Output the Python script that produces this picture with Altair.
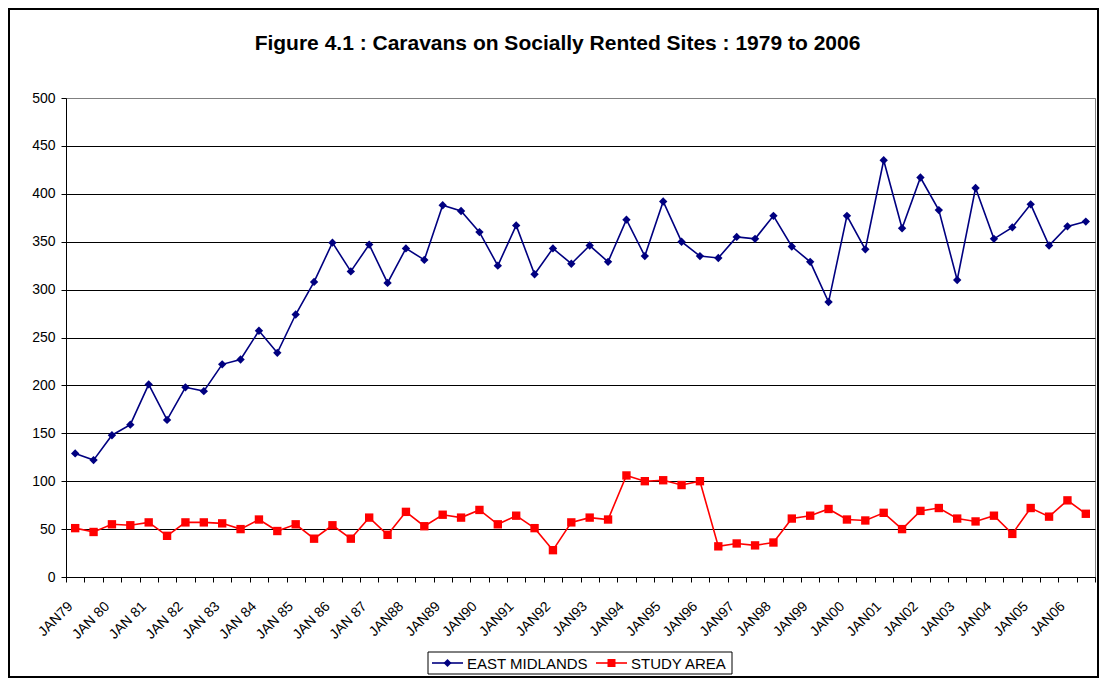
import altair as alt
import pandas as pd

title_text = "Figure 4.1 : Caravans on Socially Rented Sites : 1979 to 2006"

periods = [
    "JAN79", "JUL79", "JAN 80", "JUL80", "JAN 81", "JUL81", "JAN 82", "JUL82",
    "JAN 83", "JUL83", "JAN 84", "JUL84", "JAN 85", "JUL85", "JAN 86", "JUL86",
    "JAN 87", "JUL87", "JAN88", "JUL88", "JAN89", "JUL89", "JAN90", "JUL90",
    "JAN91", "JUL91", "JAN92", "JUL92", "JAN93", "JUL93", "JAN94", "JUL94",
    "JAN95", "JUL95", "JAN96", "JUL96", "JAN97", "JUL97", "JAN98", "JUL98",
    "JAN99", "JUL99", "JAN00", "JUL00", "JAN01", "JUL01", "JAN02", "JUL02",
    "JAN03", "JUL03", "JAN04", "JUL04", "JAN05", "JUL05", "JAN06", "JUL06",
]

east_midlands = [
    129, 122, 148, 159, 201, 164, 198, 194, 222, 227, 257, 234, 274, 308,
    349, 319, 347, 307, 343, 331, 388, 382, 360, 325, 367, 316, 343, 327,
    346, 329, 373, 335, 392, 350, 335, 333, 355, 353, 377, 345, 329, 287,
    377, 342, 435, 364, 417, 383, 310, 406, 353, 365, 389, 346, 366, 371,
]

study_area = [
    51, 47, 55, 54, 57, 43, 57, 57, 56, 50, 60, 48, 55, 40,
    54, 40, 62, 44, 68, 53, 65, 62, 70, 55, 64, 51, 28, 57,
    62, 60, 106, 100, 101, 96, 100, 32, 35, 33, 36, 61, 64, 71,
    60, 59, 67, 50, 69, 72, 61, 58, 64, 45, 72, 63, 80, 66,
]

series_names = ["EAST MIDLANDS", "STUDY AREA"]
series_colors = ["#000080", "#FF0000"]
series_shapes = ["diamond", "square"]

rows = []
for p, e, s in zip(periods, east_midlands, study_area):
    rows.append({"period": p, "series": series_names[0], "value": e})
    rows.append({"period": p, "series": series_names[1], "value": s})
df = pd.DataFrame(rows)

W, H = 1029, 479
FONT = "Liberation Sans"

x_enc = alt.X(
    "period:N",
    sort=periods,
    scale=alt.Scale(type="band", paddingInner=0, paddingOuter=0),
    axis=alt.Axis(
        title=None,
        labelAngle=-45,
        labelExpr="indexof(datum.label, 'JUL') == 0 ? '' : datum.label",
        tickBand="extent",
        tickSize=5,
        tickColor="black",
        domainColor="black",
        labelFont=FONT,
        labelFontSize=14,
        labelColor="black",
        labelPadding=17,
        labelOffset=-10,
        labelOverlap=False,
        grid=False,
    ),
)

y_enc = alt.Y(
    "value:Q",
    scale=alt.Scale(domain=[0, 500], nice=False),
    axis=alt.Axis(
        title=None,
        values=list(range(0, 501, 50)),
        grid=True,
        gridColor={"condition": {"test": "datum.value === 500", "value": "#808080"}, "value": "black"},
        gridWidth=1,
        tickSize=5,
        tickColor="black",
        domainColor="black",
        labelFont=FONT,
        labelFontSize=14,
        labelColor="black",
        labelPadding=6,
    ),
)

color_enc = alt.Color(
    "series:N",
    scale=alt.Scale(domain=series_names, range=series_colors),
    legend=None,
)
shape_enc = alt.Shape(
    "series:N",
    scale=alt.Scale(domain=series_names, range=series_shapes),
    legend=None,
)

lines = alt.Chart(df).mark_line(strokeWidth=1.6).encode(
    x=x_enc, y=y_enc, color=color_enc
)
points = alt.Chart(df).mark_point(filled=True, size=70, opacity=1).encode(
    x=x_enc, y=y_enc, color=color_enc, shape=shape_enc
)

one = pd.DataFrame({"k": [0]})

border = alt.Chart(one).mark_rect(
    fill="transparent", stroke="black", strokeWidth=2
).encode(
    x=alt.value(-57), x2=alt.value(W + 3), y=alt.value(-89), y2=alt.value(H + 100)
)

title = alt.Chart(one).mark_text(
    font=FONT, fontSize=21, fontWeight="bold", color="black",
    align="center", baseline="alphabetic"
).encode(x=alt.value(491.5), y=alt.value(-48), text=alt.value(title_text))

legend_box = alt.Chart(one).mark_rect(
    fill="white", stroke="black", strokeWidth=1
).encode(
    x=alt.value(362), x2=alt.value(666), y=alt.value(554), y2=alt.value(576)
)

legend_layers = [legend_box]
legend_x0 = [366, 530]
ly = 565
for name, col, shp, x0 in zip(series_names, series_colors, series_shapes, legend_x0):
    d = pd.DataFrame({"series": [name]})
    legend_layers.append(
        alt.Chart(d).mark_rule(color=col, strokeWidth=1.6).encode(
            x=alt.value(x0), x2=alt.value(x0 + 31), y=alt.value(ly)
        )
    )
    legend_layers.append(
        alt.Chart(d).mark_point(filled=True, size=64, opacity=1, color=col, shape=shp).encode(
            x=alt.value(x0 + 15.5), y=alt.value(ly)
        )
    )
    legend_layers.append(
        alt.Chart(d).mark_text(
            font=FONT, fontSize=15, color="black", align="left", baseline="middle"
        ).encode(x=alt.value(x0 + 35), y=alt.value(ly + 1), text="series:N")
    )

chart = alt.layer(lines, points, border, title, *legend_layers).resolve_scale(
    color="independent", shape="independent"
).properties(
    width=W,
    height=H,
    autosize=alt.AutoSizeParams(type="none"),
    padding={"left": 58, "top": 90, "right": 4, "bottom": 101},
    background="white",
).configure_view(
    stroke="#808080", strokeWidth=1
)

chart.save("out.html", embed_options={"renderer": "svg", "actions": False})
